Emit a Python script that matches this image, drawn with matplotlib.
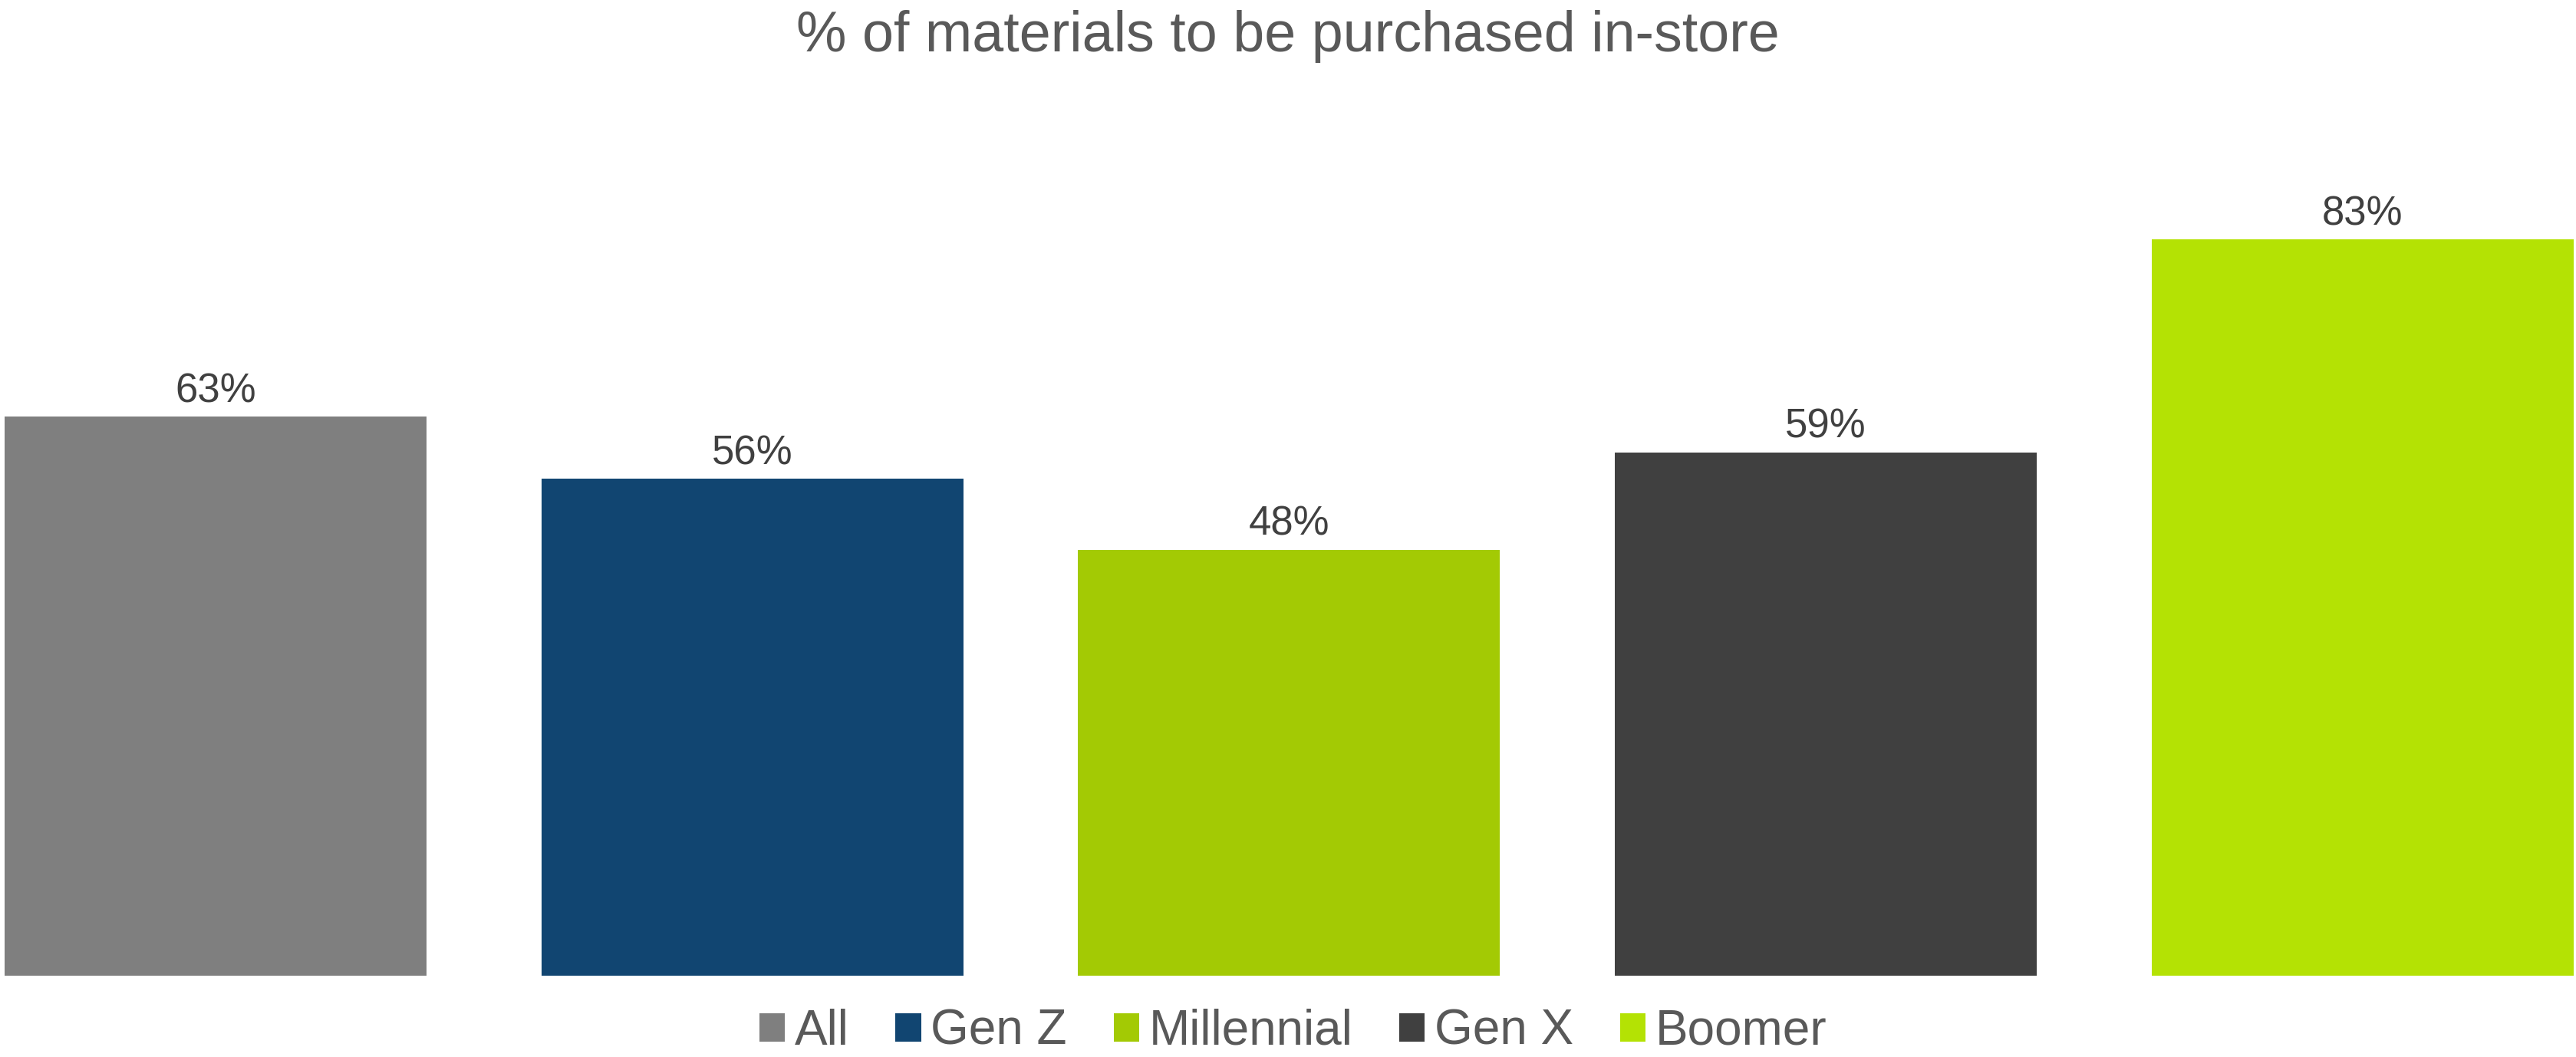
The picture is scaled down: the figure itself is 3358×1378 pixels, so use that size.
import matplotlib.pyplot as plt
import numpy as np

plt.rcParams['font.family'] = ['Liberation Sans', 'DejaVu Sans']

# Share of materials bought in-store, by generation
groups = ['All', 'Gen Z', 'Millennial', 'Gen X', 'Boomer']
values = [63, 56, 48, 59, 83]
colors = ['#7f7f7f', '#114571', '#a3ca04', '#404040', '#b4e204']

fig = plt.figure(figsize=(33.58, 13.78), dpi=100)
ax = fig.add_axes([0, 0.0769, 1, 0.7554])

x = np.arange(len(groups))
bars = ax.bar(x, values, width=0.786, color=colors, label=groups)

# value labels above each bar
for xi, v in zip(x, values):
    ax.annotate(f'{v}%', (xi, v), xytext=(0, 13.7), textcoords='offset points',
                ha='center', va='baseline', fontsize=38, color='#404040')

ax.set_xlim(-0.402, 4.398)
ax.set_ylim(0, 90)
ax.axis('off')

fig.text(0.5, 0.9514, '% of materials to be purchased in-store', ha='center',
         va='baseline', fontsize=53, color='#595959')

leg = fig.legend(bars, groups, loc='center', bbox_to_anchor=(0.502, 0.024), ncol=5,
                 frameon=False, fontsize=46, handlelength=0.52, handleheight=0.52,
                 handletextpad=0.2, columnspacing=0.95, borderpad=0, borderaxespad=0)
for t in leg.get_texts():
    t.set_color('#595959')

plt.savefig('out.png', dpi=100)
